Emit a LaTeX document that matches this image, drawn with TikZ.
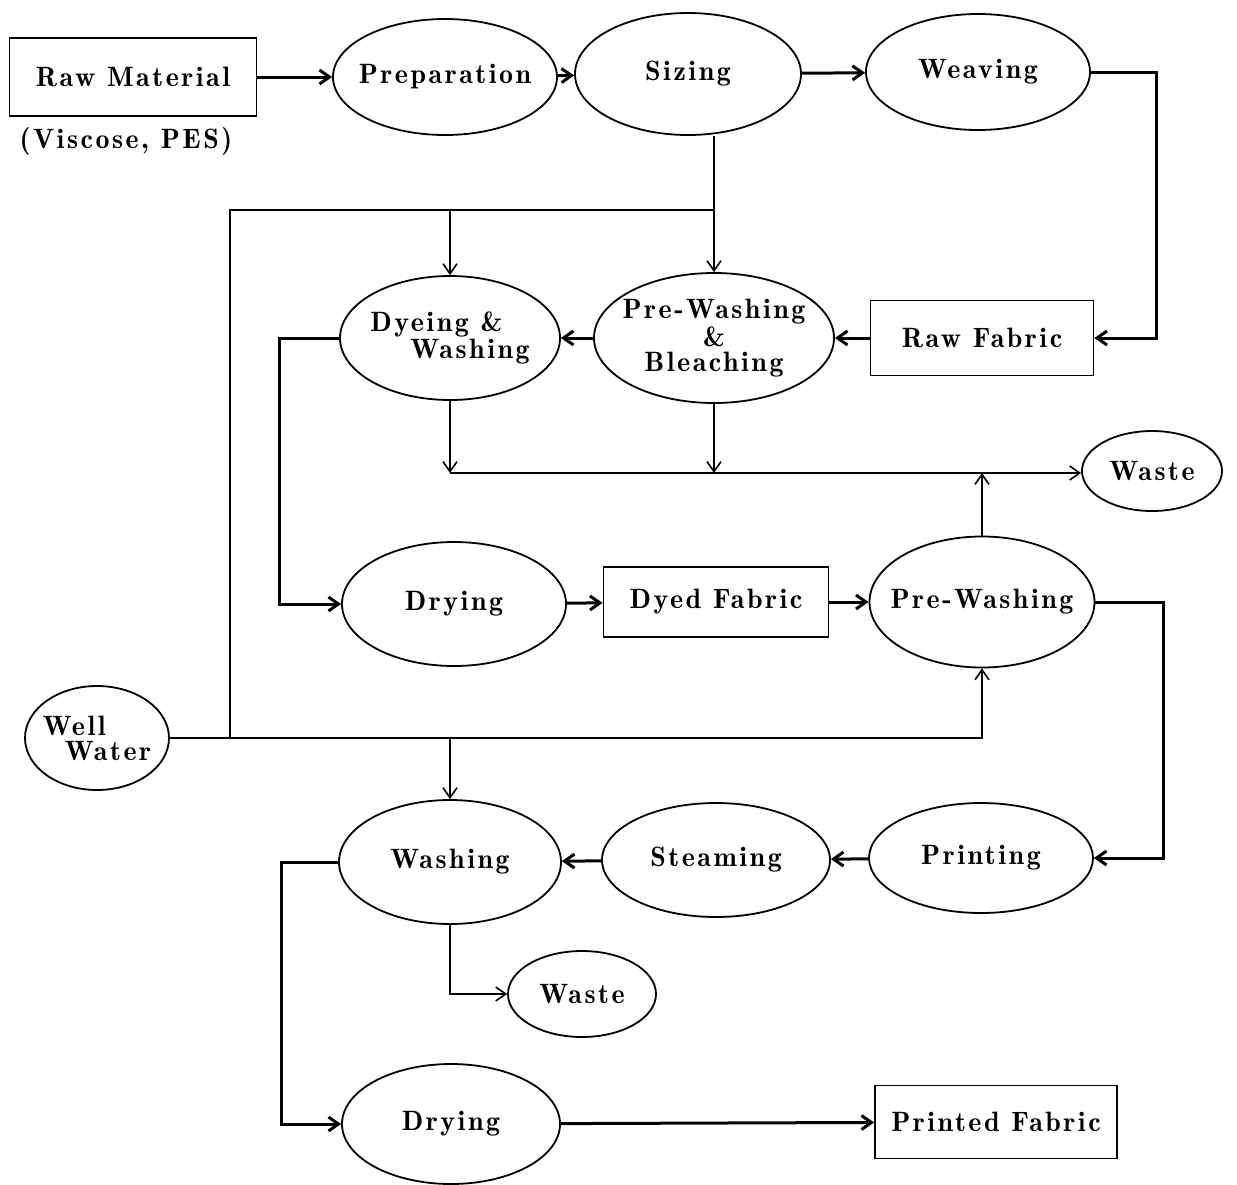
\documentclass[tikz,border=0pt]{standalone}
\usepackage{fontspec}
\setmainfont{lmromandemi10-regular.otf}[LetterSpace=9]
\usetikzlibrary{shapes.geometric,arrows.meta}

\begin{document}
\begin{tikzpicture}[x=0.5pt,y=-0.5pt,
   >={Straight Barb[length=5pt,width=7pt]},
   proc/.style={ellipse,draw,line width=0.9pt,inner xsep=-12pt,inner ysep=-6pt,
     font=\fontsize{14}{12.5}\selectfont,align=center},
   stock/.style={rectangle,draw,line width=0.9pt,inner sep=0pt,
     font=\fontsize{14}{12.5}\selectfont},
   flow/.style={->,line width=0.8pt},
   bigflow/.style={->,line width=1.5pt},
   pipe/.style={line width=0.8pt}]
   \useasboundingbox (0,0) rectangle (1237,1184);
   % spinning and weaving
   \node[stock,minimum width=123.5pt,minimum height=39pt] (raw) at (133,77) {Raw Material};
   \node[font=\fontsize{14}{12.5}\selectfont] (fibre) at (126,141) {(Viscose, PES)};
   \node[proc,minimum width=112pt,minimum height=58pt] (prep) at (445,77) {Preparation};
   \node[proc,minimum width=113pt,minimum height=61pt] (sizing) at (688,74) {Sizing};
   \node[proc,minimum width=112pt,minimum height=58pt] (weaving) at (978,72) {Weaving};
   \node[stock,minimum width=111.5pt,minimum height=37.5pt] (rawfab) at (982,338) {Raw Fabric};
   % dyeing line
   \node[proc,minimum width=120pt,minimum height=65pt] (bleach) at (714,338) {Pre-Washing\\\&\\Bleaching};
   \node[proc,minimum width=110pt,minimum height=62pt,align=left] (dyewash) at (450,338) {Dyeing \&\\\hspace{20pt}Washing};
   \node[proc,minimum width=112pt,minimum height=62pt] (dry) at (454,604) {Drying};
   \node[stock,minimum width=112.5pt,minimum height=35pt] (dyedfab) at (716,602) {Dyed Fabric};
   \node[proc,minimum width=112.5pt,minimum height=65.5pt] (prewash) at (982,602) {Pre-Washing};
   \node[proc,minimum width=70pt,minimum height=40pt] (waste) at (1152,471) {Waste};
   \node[proc,minimum width=72pt,minimum height=52pt,align=left] (well) at (97,738) {Well\\\hspace{11pt}Water};
   % printing line
   \node[proc,minimum width=112pt,minimum height=55pt] (print) at (981,858) {Printing};
   \node[proc,minimum width=114pt,minimum height=57pt] (steam) at (716,860) {Steaming};
   \node[proc,minimum width=111pt,minimum height=62pt] (wash) at (450,862) {Washing};
   \node[proc,minimum width=74pt,minimum height=43pt] (waste2) at (582,994) {Waste};
   \node[proc,minimum width=109pt,minimum height=60pt] (dry2) at (451,1124) {Drying};
   \node[stock,minimum width=121pt,minimum height=36.5pt] (printfab) at (996,1122) {Printed Fabric};
   \coordinate (wjoin) at (230,738);
   \coordinate (wtop) at (230,210);
   \coordinate (wl) at (450,473);

   \draw[bigflow] (raw) -- (prep);
   \draw[bigflow] (prep) -- (sizing);
   \draw[bigflow] (sizing) -- (weaving);
   \draw[bigflow] (weaving.east) -- ++(66,0) |- (rawfab.east);
   \draw[bigflow] (rawfab) -- (bleach);
   \draw[bigflow] (bleach) -- (dyewash);
   \draw[flow] (bleach.north |- sizing.south) -- (bleach.north);
   % well water
   \draw[pipe] (well.east) -- (wjoin) -- (wtop) -- (wtop -| bleach.north);
   \draw[flow] (wtop -| dyewash.north) -- (dyewash.north);
   \draw[flow] (wjoin) -| (prewash.south);
   \draw[flow] (wjoin -| wash.north) -- (wash.north);
   % waste water
   \draw[flow] (dyewash.south) -- (wl);
   \draw[flow] (bleach.south) -- (bleach.south |- wl);
   \draw[flow] (wl) -- (wl -| waste.west);
   \draw[flow] (prewash.north) -- (prewash.north |- wl);
   \draw[bigflow] (dyewash.west) -- ++(-60,0) |- (dry.west);
   \draw[bigflow] (dry) -- (dyedfab);
   \draw[bigflow] (dyedfab) -- (prewash);
   \draw[bigflow] (prewash.east) -- ++(68,0) |- (print.east);
   \draw[bigflow] (print) -- (steam);
   \draw[bigflow] (steam) -- (wash);
   \draw[flow] (wash.south) |- (waste2.west);
   \draw[bigflow] (wash.west) -- ++(-57,0) |- (dry2.west);
   \draw[bigflow] (dry2) -- (printfab);
\end{tikzpicture}
\end{document}
